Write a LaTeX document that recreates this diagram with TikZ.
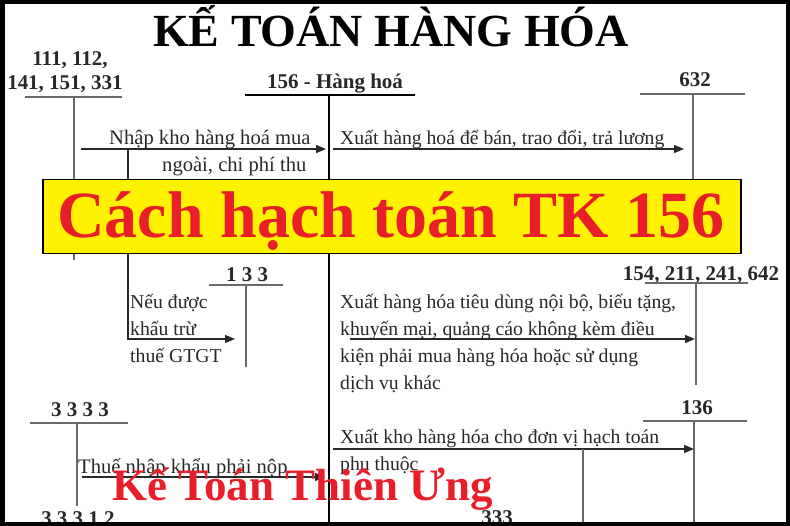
\documentclass[tikz,border=0pt]{standalone}
\usepackage{fontspec}
\setmainfont{Liberation Serif}
\usetikzlibrary{arrows.meta}
\definecolor{bannerred}{RGB}{232,30,40}
\definecolor{banneryellow}{RGB}{255,242,0}
\definecolor{inkc}{RGB}{40,40,40}
\definecolor{tlinec}{RGB}{105,105,105}
\tikzset{
  acct/.style={font=\fontsize{21}{24}\selectfont\bfseries, text=inkc, inner sep=0pt, anchor=base},
  desc/.style={font=\fontsize{19.7}{24}\selectfont, text=inkc, inner sep=0pt, anchor=base west},
  descl/.style={font=\fontsize{20.6}{24}\selectfont, text=inkc, inner sep=0pt, anchor=base west},
  tline/.style={draw=tlinec, line width=1.4pt},
  mainline/.style={draw=black, line width=2.6pt},
  flow/.style={draw=inkc, line width=1.4pt, -{Triangle[length=10pt,width=8pt]}},
}
\begin{document}
\begin{tikzpicture}[x=1pt,y=-1pt]
\useasboundingbox (0,0) rectangle (790,526);
\fill[white] (0,0) rectangle (790,526);

% title
\node[font=\fontsize{46}{50}\selectfont\bfseries, inner sep=0pt, anchor=base] (title) at (391,47) {KẾ TOÁN HÀNG HÓA};

% account 111...
\node[acct] (a111a) at (70,66) {111, 112,};
\node[acct] (a111b) at (65,90) {141, 151, 331};
\coordinate (a111l) at (25,97); \coordinate (a111r) at (122,97);
\coordinate (a111t) at (74,97); \coordinate (a111e) at (74,260);
\draw[tline] (a111l) -- (a111r);
\draw[tline] (a111t) -- (a111e);

% account 156
\node[acct] (a156) at (335,89) {156 - Hàng hoá};
\coordinate (a156l) at (245,95); \coordinate (a156r) at (415,95);
\coordinate (a156t) at (329,95); \coordinate (a156e) at (329,524);
\draw[mainline] (a156l) -- (a156r);
\draw[mainline] (a156t) -- (a156e);

% account 632
\node[acct] (a632) at (695,87) {632};
\coordinate (a632l) at (640,94); \coordinate (a632r) at (745,94);
\coordinate (a632t) at (693,94); \coordinate (a632e) at (693,200);
\draw[tline] (a632l) -- (a632r);
\draw[tline] (a632t) -- (a632e);

% flow: nhap kho
\coordinate (f1s) at (81,149); \coordinate (f1e) at (326,149);
\draw[flow] (f1s) -- (f1e);
\node[descl] (f1t1) at (109,145) {Nhập kho hàng hoá mua};
\node[descl] (f1t2) at (162,172) {ngoài, chi phí thu};

% flow: to 133
\coordinate (f2s) at (128,149); \coordinate (f2c) at (128,339); \coordinate (f2e) at (235,339);
\draw[flow] (f2s) -- (f2c) -- (f2e);
\node[acct] (a133) at (247,282) {1 3 3};
\coordinate (a133l) at (209,285); \coordinate (a133r) at (283,285);
\coordinate (a133t) at (246,285); \coordinate (a133e) at (246,367);
\draw[tline] (a133l) -- (a133r);
\draw[tline] (a133t) -- (a133e);
\node[desc] (f2t1) at (130,309) {Nếu được};
\node[desc] (f2t2) at (130,336) {khấu trừ};
\node[desc] (f2t3) at (130,363) {thuế GTGT};

% flow: to 632
\coordinate (f3s) at (333,149); \coordinate (f3e) at (684,149);
\draw[flow] (f3s) -- (f3e);
\node[desc] (f3t) at (340,145) {Xuất hàng hoá để bán, trao đổi, trả lương};

% account 154...
\node[acct] (a154) at (701,281) {154, 211, 241, 642};
\coordinate (a154l) at (645,283); \coordinate (a154r) at (748,283);
\coordinate (a154t) at (696,283); \coordinate (a154e) at (696,385);
\draw[tline] (a154l) -- (a154r);
\draw[tline] (a154t) -- (a154e);
\coordinate (f4s) at (350,339); \coordinate (f4e) at (695,339);
\draw[flow] (f4s) -- (f4e);
\node[desc] (f4t1) at (340,309) {Xuất hàng hóa tiêu dùng nội bộ, biếu tặng,};
\node[desc] (f4t2) at (340,336) {khuyến mại, quảng cáo không kèm điều};
\node[desc] (f4t3) at (340,363) {kiện phải mua hàng hóa hoặc sử dụng};
\node[desc] (f4t4) at (340,390) {dịch vụ khác};

% account 136
\node[acct] (a136) at (697,415) {136};
\coordinate (a136l) at (643,421); \coordinate (a136r) at (747,421);
\coordinate (a136t) at (694,421); \coordinate (a136e) at (694,524);
\draw[tline] (a136l) -- (a136r);
\draw[tline] (a136t) -- (a136e);
\coordinate (f5s) at (333,449); \coordinate (f5e) at (694,449);
\draw[flow] (f5s) -- (f5e);
\node[desc] (f5t1) at (340,444) {Xuất kho hàng hóa cho đơn vị hạch toán};
\node[desc] (f5t2) at (340,470) {phụ thuộc};

% account 333
\coordinate (a333t) at (583,449); \coordinate (a333e) at (583,524);
\draw[tline] (a333t) -- (a333e);
\node[acct] (a333) at (497,524) {333};

% account 3333
\node[acct] (a3333) at (80,417) {3 3 3 3};
\coordinate (a3333l) at (30,423); \coordinate (a3333r) at (128,423);
\coordinate (a3333t) at (77,423); \coordinate (a3333e) at (77,506);
\draw[tline] (a3333l) -- (a3333r);
\draw[tline] (a3333t) -- (a3333e);
\node[acct] (a33312) at (78,525) {3 3 3 1 2};
\coordinate (f6s) at (82,477); \coordinate (f6e) at (325,477);
\draw[flow] (f6s) -- (f6e);
\node[descl] (f6t) at (78,473) {Thuế nhập khẩu phải nộp};

% banner
\node[draw=black, line width=1.5pt, fill=banneryellow, minimum width=698pt, minimum height=74pt, inner sep=0pt, anchor=north west] (banner) at (42,179) {};
\node[font=\fontsize{66}{70}\selectfont\bfseries, text=bannerred, inner sep=0pt, anchor=base] (bannertext) at (391,238) {Cách hạch toán TK 156};

% watermark
\node[font=\fontsize{45}{50}\selectfont\bfseries, text=bannerred, inner sep=0pt, anchor=base west] (wm) at (112,500) {Kế Toán Thiên Ưng};

% frame
\draw[line width=4.5pt] (2.25,2.25) rectangle (787.75,523.75);
\end{tikzpicture}
\end{document}
